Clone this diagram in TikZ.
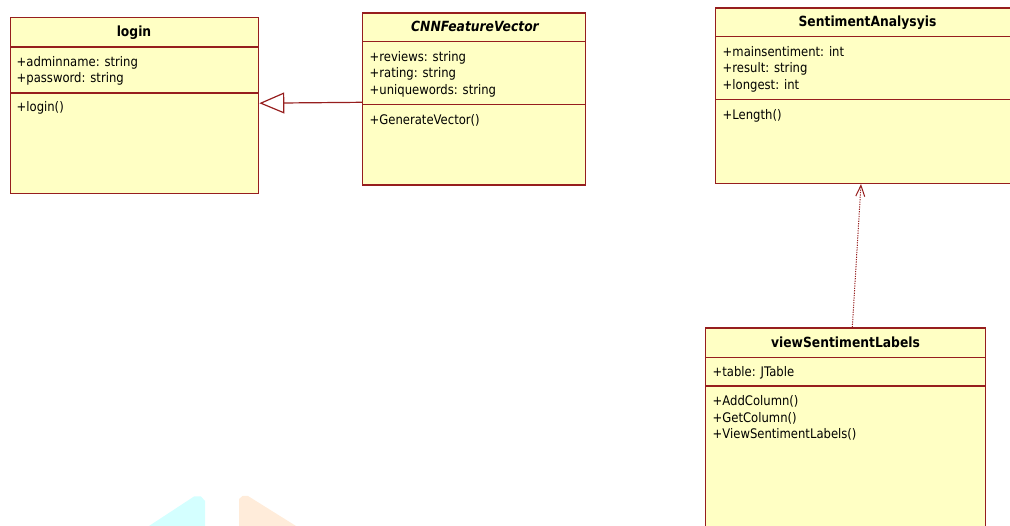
\documentclass[tikz,border=0pt]{standalone}
\usepackage{fontspec}
\setmainfont[FakeStretch=0.88]{DejaVu Sans}
\usetikzlibrary{arrows.meta}
\definecolor{cfill}{RGB}{255,255,196}
\definecolor{cline}{RGB}{150,30,30}
\definecolor{wmcyan}{RGB}{212,255,255}
\definecolor{wmorange}{RGB}{255,236,218}
\tikzset{
  classbox/.style={draw=cline, fill=cfill, line width=1.3pt, anchor=north west, inner sep=0pt, rectangle},
  divider/.style={draw=cline, line width=1.3pt},
  mem/.style={anchor=mid west, inner sep=0pt, yshift=-1.8pt, font=\fontsize{13.2}{15}\selectfont},
  ctitle/.style={anchor=mid, inner sep=0pt, yshift=-1.8pt, font=\fontsize{14}{16}\selectfont\bfseries},
  inherit/.style={draw=cline, line width=1.2pt, -{Triangle[open, length=25pt, width=21pt, line width=1.2pt]}},
  depend/.style={draw=cline, line width=1pt, dash pattern=on 1.2pt off 1.2pt, -{Straight Barb[length=11pt, width=9pt, line width=1pt]}}
}
\begin{document}
\begin{tikzpicture}[x=1pt, y=-1pt]
\useasboundingbox (0,0) rectangle (1010,526);
\clip (0,0) rectangle (1010,526);
% watermark shapes
\fill[wmcyan] (149,526) -- (194,496.5) -- (201,496.5) -- (205,501) -- (205,526) -- cycle;
\fill[wmorange] (239,526) -- (239,499) -- (242.5,496) -- (248,496) -- (296,526) -- cycle;

% login
\node[classbox, minimum width=248pt, minimum height=176pt] (login) at (10,17) {};
\draw[divider] (login.west |- 0,47) -- (login.east |- 0,47);
\draw[divider] (login.west |- 0,93) -- (login.east |- 0,93);
\node[ctitle] (login-t) at (134,31.7) {login};
\node[mem] (login-a1) at (16.5,61.7) {+adminname: string};
\node[mem] (login-a2) at (16.5,78.3) {+password: string};
\node[mem] (login-m1) at (16.5,106.7) {+login()};

% CNNFeatureVector
\node[classbox, minimum width=223pt, minimum height=172pt] (cnn) at (362,12.3) {};
\draw[divider] (cnn.west |- 0,41.3) -- (cnn.east |- 0,41.3);
\draw[divider] (cnn.west |- 0,104.3) -- (cnn.east |- 0,104.3);
\node[ctitle, font=\fontsize{14}{16}\selectfont\bfseries\itshape] (cnn-t) at (475,26.7) {CNNFeatureVector};
\node[mem] (cnn-a1) at (369.5,56.7) {+reviews: string};
\node[mem] (cnn-a2) at (369.5,73.3) {+rating: string};
\node[mem] (cnn-a3) at (369.5,90) {+uniquewords: string};
\node[mem] (cnn-m1) at (369.5,120) {+GenerateVector()};

% SentimentAnalysyis
\node[classbox, minimum width=305pt, minimum height=175.5pt] (sa) at (715,7.3) {};
\draw[divider] (sa.west |- 0,36.7) -- (sa.east |- 0,36.7);
\draw[divider] (sa.west |- 0,99.3) -- (sa.east |- 0,99.3);
\node[ctitle] (sa-t) at (867.5,21.7) {SentimentAnalysyis};
\node[mem] (sa-a1) at (722.5,51.7) {+mainsentiment: int};
\node[mem] (sa-a2) at (722.5,68.3) {+result: string};
\node[mem] (sa-a3) at (722.5,85) {+longest: int};
\node[mem] (sa-m1) at (722.5,115) {+Length()};

% viewSentimentLabels
\node[classbox, minimum width=280pt, minimum height=220pt] (vsl) at (705,327.3) {};
\draw[divider] (vsl.west |- 0,357.3) -- (vsl.east |- 0,357.3);
\draw[divider] (vsl.west |- 0,386) -- (vsl.east |- 0,386);
\node[ctitle] (vsl-t) at (845.5,343.3) {viewSentimentLabels};
\node[mem] (vsl-a1) at (712.5,371.7) {+table: JTable};
\node[mem] (vsl-m1) at (712.5,401) {+AddColumn()};
\node[mem] (vsl-m2) at (712.5,417.7) {+GetColumn()};
\node[mem] (vsl-m3) at (712.5,434.3) {+ViewSentimentLabels()};

% connectors
\draw[inherit] (cnn.west |- 0,102.3) -- (login.east |- 0,103.2);
\draw[depend] (vsl.north -| 852.3,0) -- (sa.south -| 861,0);
\end{tikzpicture}
\end{document}
